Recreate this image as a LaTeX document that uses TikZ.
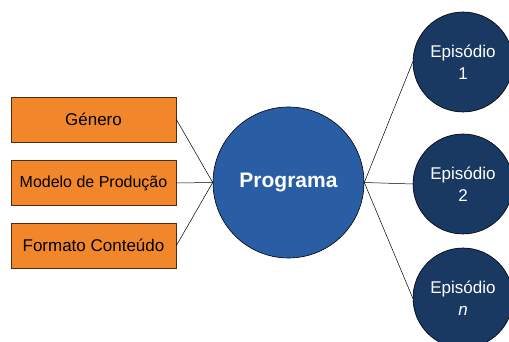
\documentclass[tikz,border=0pt]{standalone}
\usepackage{fontspec}
\setmainfont{Liberation Sans}
\definecolor{boxorange}{RGB}{241,135,42}
\definecolor{boxedge}{RGB}{70,45,20}
\definecolor{progblue}{RGB}{41,94,165}
\definecolor{epnavy}{RGB}{25,57,98}
\tikzset{
  attrbox/.style={draw=boxedge, line width=0.8pt, fill=boxorange, minimum width=165pt, minimum height=45pt, inner sep=0pt, font=\fontsize{17}{20}\selectfont},
  progcircle/.style={circle, draw=black, line width=0.6pt, fill=progblue, minimum size=151pt, inner sep=0pt, text=white, font=\fontsize{21}{24}\selectfont\bfseries},
  epcircle/.style={circle, draw=black, line width=0.6pt, fill=epnavy, minimum size=100pt, inner sep=0pt, text=white, align=center, font=\fontsize{17}{22}\selectfont},
  link/.style={draw=black, line width=0.5pt}
}
\begin{document}
\begin{tikzpicture}[x=1pt, y=1pt]
  \useasboundingbox (0,0) rectangle (509,342);
  \begin{scope}
    \clip (0,0) rectangle (509,342);
    % attribute boxes
    \node[attrbox] (genero) at (93.5,222.5) {Género};
    \node[attrbox, font=\fontsize{16}{19}\selectfont] (modelo) at (93.5,159) {Modelo de Produção};
    \node[attrbox] (formato) at (93.5,96.5) {Formato Conteúdo};
    % central programme
    \node[progcircle] (prog) at (288.5,159.5) {Programa};
    % episodes
    \node[epcircle] (ep1) at (463,280) {Episódio\\1};
    \node[epcircle] (ep2) at (463,158) {Episódio\\2};
    \node[epcircle] (epn) at (463,44) {Episódio\\\textit{n}};
    % connectors
    \draw[link] (genero.east) -- (prog.west);
    \draw[link] (modelo.east) -- (prog.west);
    \draw[link] (formato.east) -- (prog.west);
    \draw[link] (prog.east) -- (ep1.west);
    \draw[link] (prog.east) -- (ep2.west);
    \draw[link] (prog.east) -- (epn.west);
  \end{scope}
\end{tikzpicture}
\end{document}
